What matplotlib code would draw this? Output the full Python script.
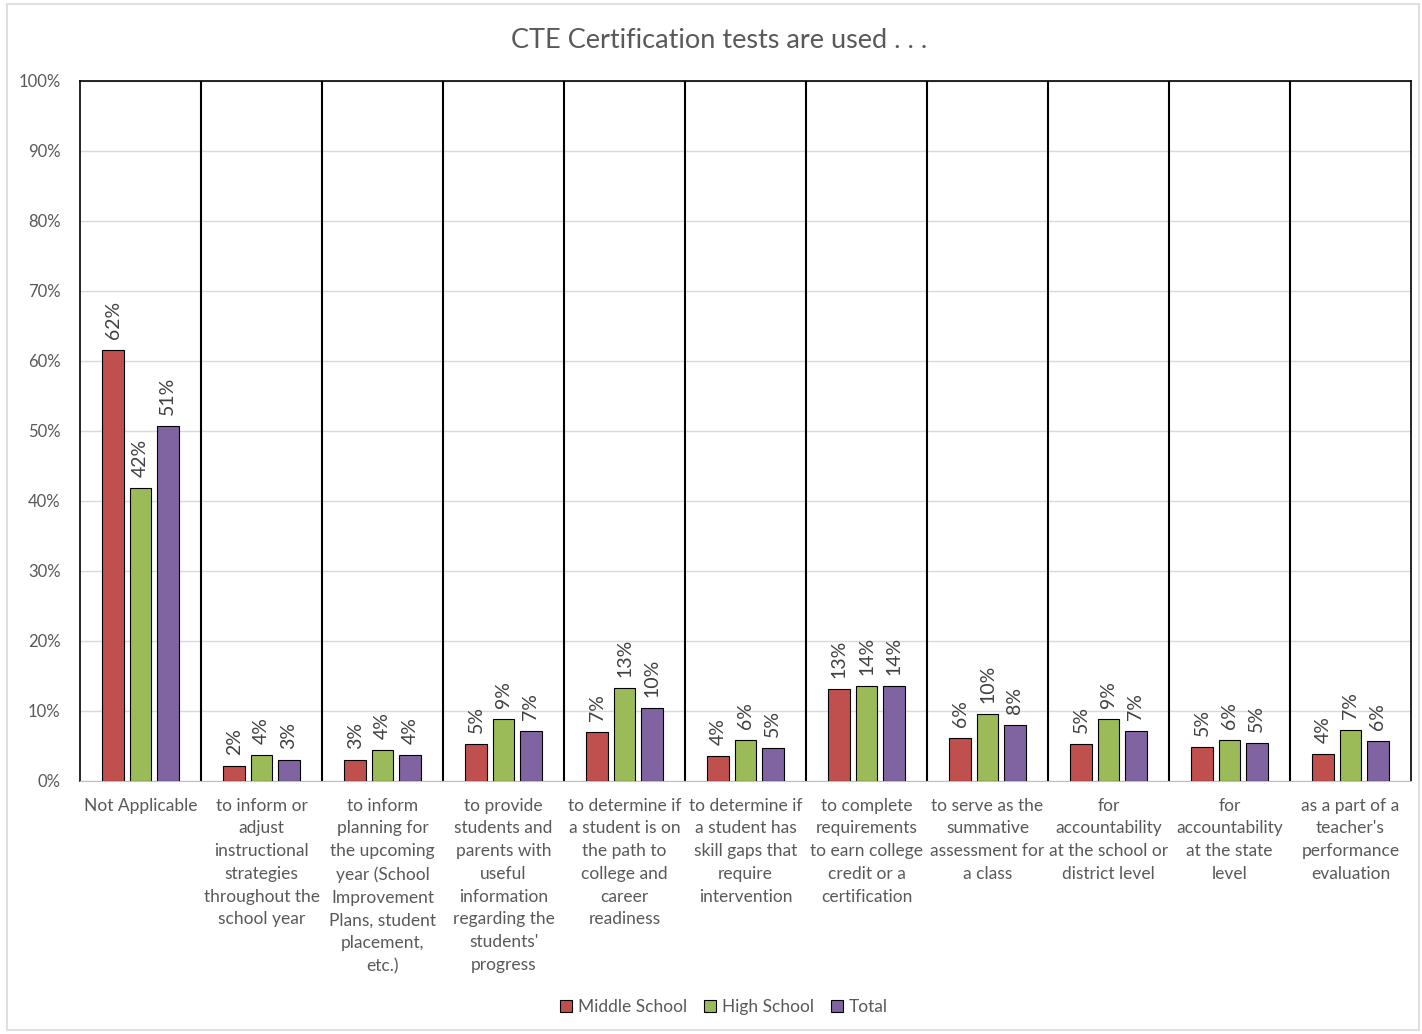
import matplotlib
matplotlib.use("Agg")
import matplotlib.pyplot as plt
from matplotlib.patches import Rectangle, Patch
import numpy as np

plt.rcParams['font.family'] = ['Lato', 'DejaVu Sans']

categories = [
    "Not Applicable",
    "to inform or\nadjust\ninstructional\nstrategies\nthroughout the\nschool year",
    "to inform\nplanning for\nthe upcoming\nyear (School\nImprovement\nPlans, student\nplacement,\netc.)",
    "to provide\nstudents and\nparents with\nuseful\ninformation\nregarding the\nstudents'\nprogress",
    "to determine if\na student is on\nthe path to\ncollege and\ncareer\nreadiness",
    "to determine if\na student has\nskill gaps that\nrequire\nintervention",
    "to complete\nrequirements\nto earn college\ncredit or a\ncertification",
    "to serve as the\nsummative\nassessment for\na class",
    "for\naccountability\nat the school or\ndistrict level",
    "for\naccountability\nat the state\nlevel",
    "as a part of a\nteacher's\nperformance\nevaluation",
]

# percentages
middle_school = [61.6, 2.1, 3.0, 5.3, 7.0, 3.6, 13.1, 6.1, 5.3, 4.9, 3.9]
high_school = [41.9, 3.7, 4.4, 8.9, 13.3, 5.9, 13.6, 9.6, 8.9, 5.9, 7.3]
total = [50.7, 3.0, 3.7, 7.1, 10.4, 4.7, 13.6, 8.0, 7.1, 5.4, 5.7]

series = [("Middle School", middle_school, "#C0504D"),
          ("High School", high_school, "#9BBB59"),
          ("Total", total, "#8064A2")]

text_gray = "#595959"

fig = plt.figure(figsize=(14.22, 10.34), dpi=100)
fig.patches.append(Rectangle((0.005, 0.004), 0.993, 0.992, transform=fig.transFigure,
                             fill=False, edgecolor="#d9d9d9", linewidth=1.2))
ax = fig.add_axes([0.0563, 0.2447, 0.9360, 0.677])

x = np.arange(len(categories))
width = 0.18
step = 0.225

for i, (name, vals, color) in enumerate(series):
    pos = x + (i - 1) * step
    bars = ax.bar(pos, vals, width, color=color, edgecolor="black", linewidth=0.8,
                  label=name, zorder=3)
    for b, v in zip(bars, vals):
        ax.annotate(f"{v:.0f}%", (b.get_x() + b.get_width() / 2, v),
                    xytext=(0, 8), textcoords="offset points", rotation=90,
                    ha="center", va="bottom", fontsize=14, color="#404040")

# separators between categories
for s in np.arange(0.5, len(categories) - 1, 1.0):
    ax.axvline(s, color="black", linewidth=1.5, zorder=2)

ax.set_xlim(-0.5, len(categories) - 0.5)
ax.set_ylim(0, 100)
ax.set_yticks(range(0, 101, 10))
ax.set_yticklabels([f"{t}%" for t in range(0, 101, 10)], fontsize=12, color=text_gray)
ax.yaxis.grid(True, color="#d9d9d9", linewidth=1, zorder=0)
ax.set_axisbelow(True)

ax.set_xticks(x)
ax.set_xticklabels(categories, fontsize=12.5, color=text_gray, linespacing=1.52,
                   va="top", ha="center", multialignment="center")
ax.tick_params(axis="both", length=0)
ax.tick_params(axis="x", pad=12)
ax.tick_params(axis="y", pad=14)

for side in ("top", "left", "right"):
    ax.spines[side].set_color("black")
    ax.spines[side].set_linewidth(1.2)
ax.spines["bottom"].set_color("#bfbfbf")

fig.text(0.506, 0.961, "CTE Certification tests are used . . .", ha="center", va="center",
         fontsize=19.5, color=text_gray)

handles = [Patch(facecolor=c, edgecolor="black", linewidth=0.8, label=n) for n, _, c in series]
fig.legend(handles=handles, loc="center", bbox_to_anchor=(0.509, 0.026), ncol=3,
           frameon=False, fontsize=12.5, handlelength=0.7, handleheight=0.7,
           handletextpad=0.3, columnspacing=1.0, labelcolor=text_gray)

fig.savefig("out.png", dpi=100)
